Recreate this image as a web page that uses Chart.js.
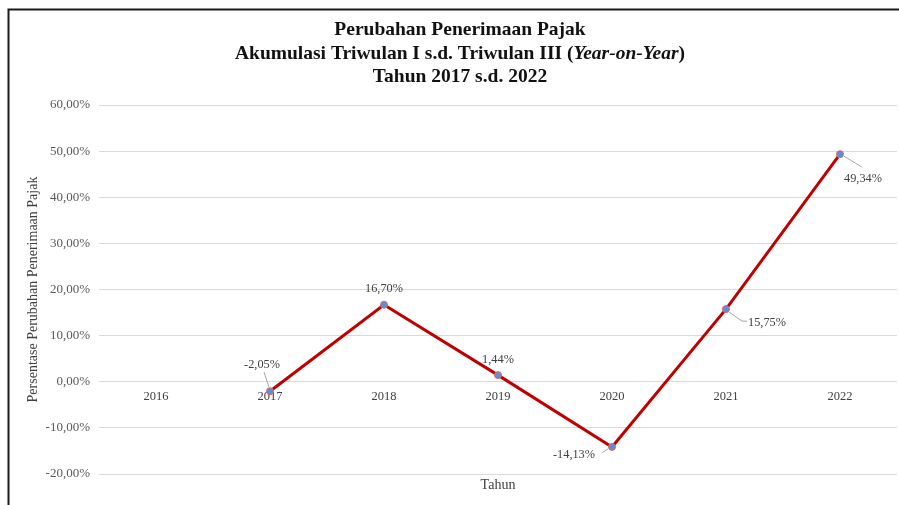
<!DOCTYPE html>
<html>
<head>
<meta charset="utf-8">
<script src="https://cdn.jsdelivr.net/npm/chart.js@4.4.0/dist/chart.umd.min.js"></script>
<style>
  html, body { margin: 0; padding: 0; background: #fff; overflow: hidden; }
  #wrap { width: 902px; height: 505px; position: relative; }
</style>
</head>
<body>
<div id="wrap"><canvas id="chart"></canvas></div>
<script>
// data
const years = ['2016', '2017', '2018', '2019', '2020', '2021', '2022'];
const growth = [null, -2.05, 16.70, 1.44, -14.13, 15.75, 49.34];
const yTicks = [-20, -10, 0, 10, 20, 30, 40, 50, 60];

// where each value label sits relative to its point: [dx, dy, leader]
const labelPos = [
  null,
  [-8, -26, [[-1, -4], [-6, -19]]],
  [0, -16, null],
  [0, -15, null],
  [-38, 8, [[-4, 2], [-10, 6]]],
  [41, 14, [[3, 3], [16, 12], [21, 12]]],
  [23, 25, [[4, 2], [22, 13]]]
];

const fmt = v => v.toFixed(2).replace('.', ',') + '%';
const serif = '"Liberation Serif", "Times New Roman", serif';

const framePlugin = {
  id: 'frame',
  beforeDraw(chart) {
    const ctx = chart.ctx;
    ctx.save();
    ctx.strokeStyle = '#1a1a1a';
    ctx.lineWidth = 2;
    ctx.beginPath();
    ctx.moveTo(8.5, 505);
    ctx.lineTo(8.5, 9.5);
    ctx.lineTo(902, 9.5);
    ctx.stroke();
    ctx.restore();
  }
};

// three-line title, middle line has an italic part
const titlePlugin = {
  id: 'bigTitle',
  afterDraw(chart) {
    const ctx = chart.ctx;
    const cx = 460;
    ctx.save();
    ctx.fillStyle = '#111';
    ctx.textBaseline = 'middle';
    const bold = 'bold 19.5px ' + serif;
    const boldIt = 'italic bold 19.5px ' + serif;
    ctx.font = bold;
    ctx.textAlign = 'center';
    ctx.fillText('Perubahan Penerimaan Pajak', cx, 30);
    ctx.fillText('Tahun 2017 s.d. 2022', cx, 77);
    const parts = [['Akumulasi Triwulan I s.d. Triwulan III (', bold], ['Year-on-Year', boldIt], [')', bold]];
    let total = 0;
    parts.forEach(p => { ctx.font = p[1]; total += ctx.measureText(p[0]).width; });
    let x = cx - total / 2;
    ctx.textAlign = 'left';
    parts.forEach(p => {
      ctx.font = p[1];
      ctx.fillText(p[0], x, 54);
      x += ctx.measureText(p[0]).width;
    });
    ctx.restore();
  }
};

const labelPlugin = {
  id: 'valueLabels',
  afterDatasetsDraw(chart) {
    const ctx = chart.ctx;
    const meta = chart.getDatasetMeta(0);
    ctx.save();
    ctx.font = '12.3px ' + serif;
    ctx.fillStyle = '#404040';
    ctx.textAlign = 'center';
    ctx.textBaseline = 'middle';
    growth.forEach((v, i) => {
      if (v === null) return;
      const pt = meta.data[i];
      const [dx, dy, leader] = labelPos[i];
      if (leader) {
        ctx.strokeStyle = '#a6a6a6';
        ctx.lineWidth = 1;
        ctx.beginPath();
        leader.forEach((p, k) => {
          if (k === 0) ctx.moveTo(pt.x + p[0], pt.y + p[1]);
          else ctx.lineTo(pt.x + p[0], pt.y + p[1]);
        });
        ctx.stroke();
      }
      ctx.fillText(fmt(v), pt.x + dx, pt.y + dy);
    });
    ctx.restore();
  }
};

new Chart(document.getElementById('chart'), {
  type: 'line',
  data: {
    labels: years,
    datasets: [{
      data: growth,
      borderColor: '#c00000',
      borderWidth: 3,
      pointRadius: 3.5,
      pointBackgroundColor: '#5b8fd6',
      pointBorderColor: '#e06666',
      pointBorderWidth: 1,
      tension: 0,
      spanGaps: false,
      xAxisID: 'x'
    }]
  },
  options: {
    responsive: true,
    maintainAspectRatio: false,
    animation: false,
    layout: { padding: { top: 105, right: 0, bottom: 0, left: 0 } },
    plugins: { legend: { display: false }, tooltip: { enabled: false } },
    scales: {
      y: {
        min: -20, max: 60,
        afterBuildTicks: s => { s.ticks = yTicks.map(v => ({ value: v })); },
        afterFit: s => { s.width = 99; },
        grid: { color: '#d9d9d9', lineWidth: 1, drawTicks: false },
        border: { display: false },
        ticks: {
          padding: 9,
          color: '#595959',
          font: { family: serif, size: 13 },
          callback: v => fmt(v)
        },
        title: {
          display: true,
          text: 'Persentase Perubahan Penerimaan Pajak',
          color: '#404040',
          font: { family: serif, size: 14 },
          padding: { top: 25, bottom: 0 }
        }
      },
      x: {
        type: 'category',
        position: { y: 0 },
        offset: true,
        grid: { display: false, drawTicks: false },
        border: { display: false },
        ticks: { padding: 7.5, color: '#404040', font: { family: serif, size: 12.5 } }
      },
      x2: {
        type: 'category',
        labels: years,
        position: 'bottom',
        offset: true,
        afterFit: s => { s.height = 31; },
        grid: { display: false, drawTicks: false },
        border: { display: false },
        ticks: { display: false },
        title: {
          display: true,
          text: 'Tahun',
          color: '#404040',
          font: { family: serif, size: 14 },
          padding: { top: 0, bottom: 11.6 }
        }
      }
    }
  },
  plugins: [framePlugin, titlePlugin, labelPlugin]
});
</script>
</body>
</html>
